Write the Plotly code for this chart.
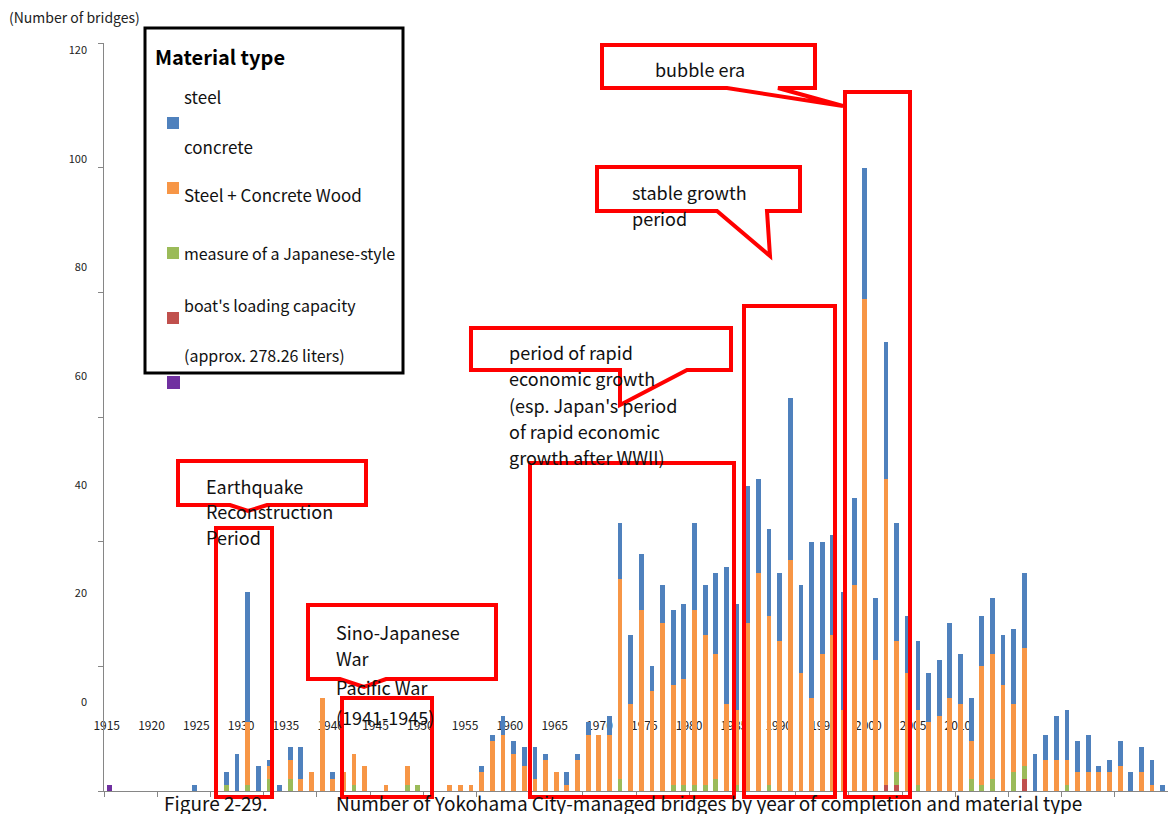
import plotly.graph_objects as go

# Bridges completed per year, by material (stacked bottom -> top)
years = list(range(1915, 2015))

stone = [1, 0, 0, 0, 0, 0, 0, 0, 0, 0] + [0] * 90

wood = ([0] * 70
        + [0, 0, 0, 1, 1, 0, 0, 0, 0, 0]
        + [0, 0, 0, 0, 0, 0, 2, 0, 0, 0]
        + [0] * 10)

steel_concrete = ([0] * 10
                  + [0, 1, 0, 1, 0, 2, 0, 2, 0, 0]
                  + [0, 0, 0, 1, 0, 0, 0, 0, 1, 1]
                  + [0] * 10
                  + [0, 0, 0, 0, 0, 0, 0, 0, 2, 0]
                  + [0, 0, 0, 1, 1, 1, 1, 2, 0, 1]
                  + [0, 0, 1, 0, 0, 0, 0, 0, 0, 0]
                  + [0, 0, 0, 0, 2, 0, 1, 0, 0, 0]
                  + [0, 2, 1, 2, 0, 3, 2, 0, 0, 0]
                  + [1, 0, 0, 0, 0, 0, 0, 0, 0, 0])

concrete = ([0] * 10
            + [0, 0, 0, 10, 0, 2, 0, 3, 2, 3]
            + [15, 2, 3, 5, 4, 0, 1, 0, 3, 0]
            + [0, 0, 1, 1, 1, 3, 8, 9, 6, 4]
            + [2, 5, 3, 1, 5, 9, 9, 9, 32, 14]
            + [29, 16, 27, 16, 17, 28, 24, 20, 14, 12]
            + [27, 35, 27, 24, 37, 19, 15, 22, 25, 13]
            + [33, 79, 21, 49, 21, 19, 12, 11, 12, 15]
            + [14, 6, 19, 20, 17, 11, 19, 0, 5, 5]
            + [4, 3, 3, 3, 3, 4, 0, 3, 1, 0])

steel = ([0, 0, 0, 0, 0, 0, 0, 0, 1, 0]
         + [0, 2, 6, 21, 4, 1, 1, 2, 5, 0]
         + [0, 1, 0, 0, 0, 0, 0, 0, 0, 0]
         + [0, 0, 0, 0, 0, 1, 1, 3, 2, 3]
         + [5, 1, 0, 2, 1, 2, 0, 3, 9, 11]
         + [9, 4, 6, 12, 12, 14, 8, 13, 22, 17]
         + [22, 15, 14, 11, 26, 14, 25, 18, 16, 19]
         + [14, 21, 10, 22, 19, 9, 11, 8, 9, 12]
         + [8, 7, 8, 9, 8, 12, 12, 6, 4, 7]
         + [8, 5, 6, 1, 2, 4, 3, 4, 4, 1])

y_ticks = [0, 20, 40, 60, 80, 100, 120]
year_labels = list(range(1915, 2011, 5))

BLUE, ORANGE, GREEN, RED, PURPLE = "#4F81BD", "#F79646", "#9BBB59", "#C0504D", "#7030A0"
FONT = "Noto Sans CJK JP"

# page geometry (pixels)
W, H = 1168, 814
L, R, T, B = 104, 1168, 43, 791


def px_x(px):
    return (px - L) / (R - L)


def px_y(py):
    return (B - py) / (B - T)


fig = go.Figure()
for name, vals, col in [("stone", stone, PURPLE), ("wood", wood, RED),
                        ("steel + concrete", steel_concrete, GREEN),
                        ("concrete", concrete, ORANGE), ("steel", steel, BLUE)]:
    fig.add_trace(go.Bar(x=years, y=vals, name=name, marker_color=col,
                         marker_line_width=0, width=0.45))

# carrier trace for the secondary label axes
fig.add_trace(go.Scatter(x=[], y=[], xaxis="x2", yaxis="y2", showlegend=False,
                         hoverinfo="skip"))

shapes = []
annotations = []


def text(px, py, s, size=17, color="#111"):
    annotations.append(dict(x=px_x(px), y=px_y(py), xref="paper", yref="paper",
                            text=s, showarrow=False, xanchor="left",
                            yanchor="middle",
                            font=dict(family=FONT, size=size, color=color)))


def lines(px, pys, texts, size=18):
    for py, s in zip(pys, texts):
        text(px, py, s, size)


def path(points, color="#FF0000", width=4):
    d = "M " + " L ".join(f"{px_x(a):.5f},{px_y(b):.5f}" for a, b in points) + " Z"
    shapes.append(dict(type="path", path=d, xref="paper", yref="paper",
                       line=dict(color=color, width=width), layer="above"))


def box(x0, y0, x1, y1, color="#FF0000", width=4, fill=None):
    shapes.append(dict(type="rect", xref="paper", yref="paper",
                       x0=px_x(x0), x1=px_x(x1), y0=px_y(y0), y1=px_y(y1),
                       line=dict(color=color, width=width),
                       fillcolor=fill, layer="above"))


def swatch(x0, y0, size, color):
    shapes.append(dict(type="rect", xref="paper", yref="paper",
                       x0=px_x(x0), x1=px_x(x0 + size), y0=px_y(y0), y1=px_y(y0 + size),
                       line=dict(width=0), fillcolor=color, layer="above"))


# legend panel
box(145, 28, 403, 373, color="#000000", width=3)
text(153, 57, "<b>Material type</b>", 20, "#000")
text(182, 97, "steel")
swatch(167, 117, 12, BLUE)
text(182, 146, "concrete")
swatch(167, 182, 12, ORANGE)
text(182, 194, "Steel + Concrete Wood")
swatch(167, 247, 12, GREEN)
text(182, 253, "measure of a Japanese-style", 16)
text(182, 305, "boat's loading capacity", 16)
swatch(167, 312, 12, RED)
text(182, 355, "(approx. 278.26 liters)", 16)
swatch(167, 376, 13, PURPLE)

# era callouts
path([(178, 461), (366, 461), (366, 505), (267, 505), (248, 511), (230, 505), (178, 505)])
lines(204, [486, 511, 537], ["Earthquake", "Reconstruction", "Period"])
box(216, 528, 272, 797)

path([(308, 605), (496, 605), (496, 679), (386, 679), (364, 687), (340, 679), (308, 679)])
lines(334, [632, 658, 687, 717], ["Sino-Japanese", "War", "Pacific War", "(1941-1945)"])
box(342, 698, 432, 797)

path([(471, 328), (731, 328), (731, 370), (687, 370), (620, 405), (620, 370), (471, 370)])
lines(507, [352, 378, 405, 431, 457],
      ["period of rapid", "economic growth", "(esp. Japan's period",
       "of rapid economic", "growth after WWII)"])
box(530, 463, 734, 797)

path([(597, 167), (800, 167), (800, 211), (767, 211), (770, 256), (717, 211), (597, 211)])
lines(630, [192, 218], ["stable growth", "period"])
box(744, 306, 835, 797)

path([(602, 45), (815, 45), (815, 88), (778, 88), (843, 106), (727, 88), (602, 88)])
lines(653, [69], ["bubble era"])
box(845, 92, 910, 797)

# titles
text(7, 17, "(Number of bridges)", 14, "#222")
text(162, 802, "Figure 2-29.", 19, "#111")
text(334, 802, "Number of Yokohama City-managed bridges by year of completion and material type",
     19, "#111")

AXIS = "#868686"
fig.update_layout(
    width=W, height=H,
    margin=dict(l=L, r=W - R, t=T, b=H - B),
    plot_bgcolor="white", paper_bgcolor="white",
    barmode="stack", bargap=0.55, showlegend=False,
    font=dict(family=FONT, color="#222"),
    xaxis=dict(range=[1914.5, 2014.5], tickvals=[1914.5 + 5 * k for k in range(21)],
               ticks="outside", ticklen=5, tickcolor=AXIS, showticklabels=False,
               showline=True, linecolor=AXIS, linewidth=1, showgrid=False,
               zeroline=False),
    yaxis=dict(range=[0, 120], tickvals=y_ticks, ticks="outside", ticklen=5,
               tickcolor=AXIS, showticklabels=False, showline=True,
               linecolor=AXIS, linewidth=1, showgrid=False, zeroline=False),
    xaxis2=dict(overlaying="x", anchor="free", position=px_y(717), side="bottom",
                range=[1914.70, 2033.45], tickvals=year_labels, ticks="",
                showline=False, showgrid=False, zeroline=False,
                tickfont=dict(family=FONT, size=12, color="#222"),
                layer="below traces"),
    yaxis2=dict(overlaying="y", anchor="free", position=0, side="left",
                range=[-16.38, 121.29], tickvals=y_ticks, ticks="",
                ticklabelstandoff=17,
                showline=False, showgrid=False, zeroline=False,
                tickfont=dict(family=FONT, size=11, color="#222"),
                layer="below traces"),
    shapes=shapes,
    annotations=annotations,
)

fig.write_html("out.html")
